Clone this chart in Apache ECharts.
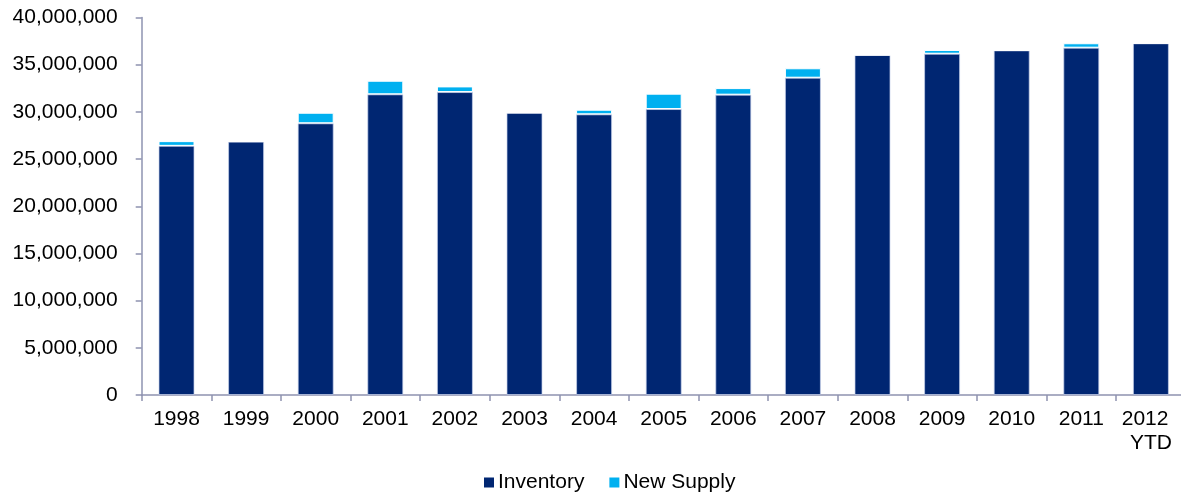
<!DOCTYPE html>
<html>
<head>
<meta charset="utf-8">
<script src="https://cdn.jsdelivr.net/npm/echarts@6/dist/echarts.min.js"></script>
<style>
  html, body { margin: 0; padding: 0; background: #fff; }
  #chart { width: 1181px; height: 497px; }
</style>
</head>
<body>
<div id="chart"></div>
<script>
// Office inventory by year, with newly delivered supply stacked on top
const categories = ['1998', '1999', '2000', '2001', '2002', '2003', '2004', '2005',
  '2006', '2007', '2008', '2009', '2010', '2011', '2012\u00a0\u00a0\nYTD'];
const inventory = [26400000, 26850000, 28790000, 31860000, 32100000, 29910000, 29740000,
  30300000, 31820000, 33620000, 36030000, 36160000, 36520000, 36800000, 37270000];
const newSupply = [500000, 0, 1120000, 1440000, 600000, 0, 490000,
  1630000, 700000, 1000000, 0, 400000, 0, 470000, 0];
const yTicks = { min: 0, max: 40000000, interval: 5000000 };

const axisColor = '#8E93B0';
const textStyle = { fontFamily: 'Liberation Sans, Arial, sans-serif', fontSize: 21, color: '#000' };

const chart = echarts.init(document.getElementById('chart'));
chart.setOption({
  animation: false,
  backgroundColor: '#fff',
  grid: {
    left: 141.7, top: 17.5, bottom: 102, width: 1044,
    containLabel: false, outerBoundsMode: 'none'
  },
  legend: {
    data: ['Inventory', 'New Supply'],
    left: 479, bottom: -1,
    itemWidth: 10, itemHeight: 10, itemGap: 25,
    icon: 'rect',
    itemStyle: { borderWidth: 0 },
    textStyle: Object.assign({}, textStyle, { padding: [0, 0, 0, -1] })
  },
  xAxis: {
    type: 'category',
    data: categories,
    axisLine: { lineStyle: { color: axisColor, width: 1.5 } },
    axisTick: { show: true, alignWithLabel: false, length: 6, lineStyle: { color: axisColor, width: 1.5 } },
    axisLabel: Object.assign({}, textStyle, { margin: 12, lineHeight: 24, interval: 0 }),
    splitLine: { show: false }
  },
  yAxis: {
    type: 'value',
    min: yTicks.min, max: yTicks.max, interval: yTicks.interval,
    axisLine: { show: true, lineStyle: { color: axisColor, width: 1.5 } },
    axisTick: { show: true, length: 6, lineStyle: { color: axisColor, width: 1.5 } },
    axisLabel: Object.assign({}, textStyle, {
      margin: 24,
      formatter: v => v.toLocaleString('en-US')
    }),
    splitLine: { show: false }
  },
  series: [
    {
      name: 'Inventory', type: 'bar', stack: 'total',
      data: inventory, barWidth: 36,
      itemStyle: { color: '#002672', borderColor: 'rgba(200,210,235,0.7)', borderWidth: 1 }
    },
    {
      name: 'New Supply', type: 'bar', stack: 'total',
      data: newSupply, barWidth: 36,
      itemStyle: { color: '#00B0F0', borderColor: '#fff', borderWidth: 1 }
    }
  ]
});
</script>
</body>
</html>
